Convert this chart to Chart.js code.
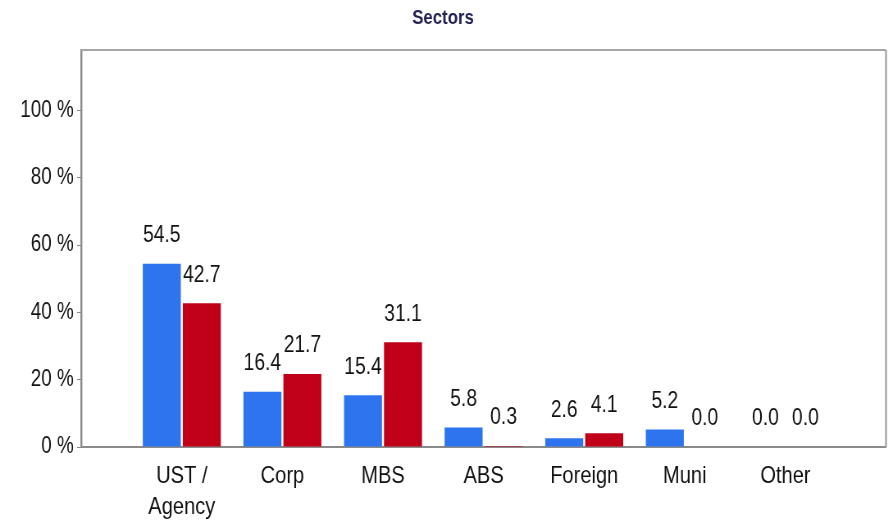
<!DOCTYPE html>
<html>
<head>
<meta charset="utf-8">
<title>Sectors</title>
<script src="https://cdn.jsdelivr.net/npm/chart.js@4/dist/chart.umd.min.js"></script>
<style>
  html, body { margin: 0; padding: 0; background: #fff; overflow: hidden; }
  /* drawn wide, then squeezed so the Arial glyphs come out narrow */
  #wrap { width: 1085px; height: 523px; transform: scaleX(0.82); transform-origin: 0 0; }
</style>
</head>
<body>
<div id="wrap"><canvas id="sectorChart" width="1085" height="523"></canvas></div>
<script>
const SECTORS = [['UST /', 'Agency'], 'Corp', 'MBS', 'ABS', 'Foreign', 'Muni', 'Other'];
const PORTFOLIO = [54.5, 16.4, 15.4, 5.8, 2.6, 5.2, 0.0];
const BENCHMARK = [42.7, 21.7, 31.1, 0.3, 4.1, 0.0, 0.0];
const Y_TICKS = [0, 20, 40, 60, 80, 100];

const FONT = '"Liberation Sans", Arial, sans-serif';

// empty slot on each side so the groups sit one step in from the frame
const labels = [''].concat(SECTORS, ['']);
const pad = arr => [null].concat(arr, [null]);

// grey frame on the top and right of the plot area
const frame = {
    id: 'frame',
    afterDraw(chart) {
        const { ctx, chartArea: a } = chart;
        ctx.save();
        ctx.strokeStyle = '#a6a6a6';
        ctx.lineWidth = 2;
        ctx.beginPath();
        ctx.moveTo(a.left, a.top);
        ctx.lineTo(a.right, a.top);
        ctx.stroke();
        ctx.lineWidth = 2.4;
        ctx.beginPath();
        ctx.moveTo(a.right, a.top);
        ctx.lineTo(a.right, a.bottom);
        ctx.stroke();
        ctx.restore();
    }
};

// value printed above every bar, zeros included
const valueLabels = {
    id: 'valueLabels',
    afterDatasetsDraw(chart) {
        const { ctx } = chart;
        ctx.save();
        ctx.font = '23.5px ' + FONT;
        ctx.fillStyle = '#111';
        ctx.textAlign = 'center';
        ctx.textBaseline = 'middle';
        chart.data.datasets.forEach((ds, i) => {
            chart.getDatasetMeta(i).data.forEach((bar, j) => {
                const v = ds.data[j];
                if (v === null) return;
                ctx.fillText(v.toFixed(1), bar.x, bar.y - 28);
            });
        });
        ctx.restore();
    }
};

new Chart(document.getElementById('sectorChart'), {
    type: 'bar',
    data: {
        labels: labels,
        datasets: [{
            label: 'Portfolio',
            data: pad(PORTFOLIO),
            backgroundColor: '#2f74ef',
            categoryPercentage: 0.795,
            barPercentage: 0.95
        }, {
            label: 'Benchmark',
            data: pad(BENCHMARK),
            backgroundColor: '#c00018',
            categoryPercentage: 0.795,
            barPercentage: 0.95
        }]
    },
    options: {
        responsive: false,
        animation: false,
        devicePixelRatio: 1,
        layout: { padding: { left: 0, right: 4.5, top: 0, bottom: 0 } },
        plugins: {
            legend: { display: false },
            tooltip: { enabled: false },
            title: {
                display: true,
                text: 'Sectors',
                color: '#232353',
                font: { family: FONT, size: 20.5, weight: 'bold' },
                padding: { top: 5.7, bottom: 19.7 }
            }
        },
        scales: {
            x: {
                offset: false,
                grid: { display: true, drawOnChartArea: false, drawTicks: false },
                border: { display: true, color: '#8a8a8a', width: 2 },
                ticks: {
                    color: '#111',
                    font: { family: FONT, size: 24.5, lineHeight: 1.25 },
                    padding: 14,
                    maxRotation: 0,
                    autoSkip: false
                },
                afterFit(scale) {
                    scale.height = 76;
                    scale.paddingLeft = 0;
                    scale.paddingRight = 0;
                }
            },
            y: {
                min: 0,
                max: 118,
                afterBuildTicks(scale) {
                    scale.ticks = Y_TICKS.map(v => ({ value: v }));
                },
                grid: { display: true, drawOnChartArea: false, drawTicks: true, tickLength: 5, color: '#8a8a8a' },
                border: { display: true, color: '#8a8a8a', width: 2.4 },
                ticks: {
                    color: '#111',
                    font: { family: FONT, size: 23 },
                    padding: 4,
                    callback: v => v + ' %'
                },
                afterFit(scale) { scale.width = 99; }
            }
        }
    },
    plugins: [frame, valueLabels]
});
</script>
</body>
</html>
